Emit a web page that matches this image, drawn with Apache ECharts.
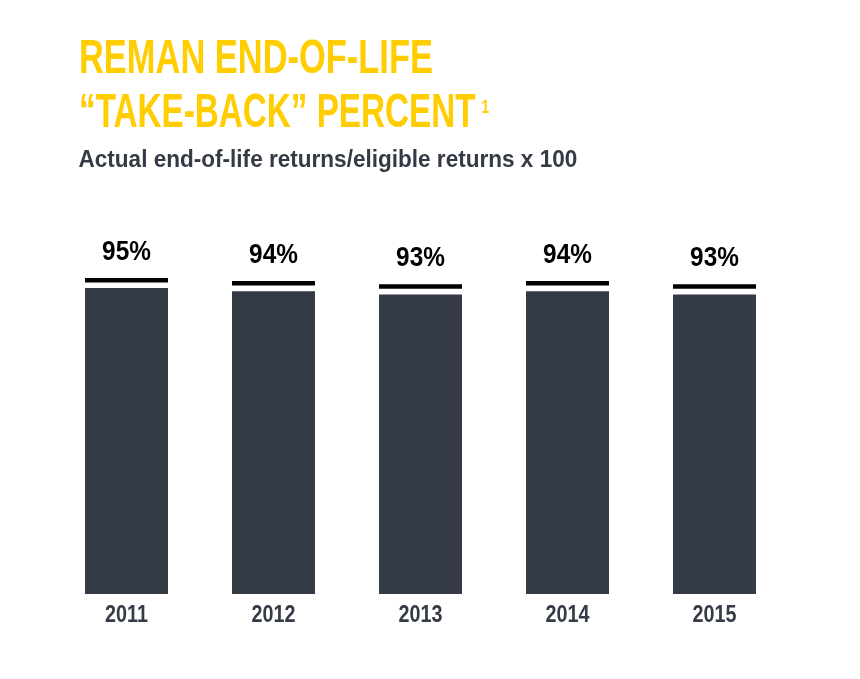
<!DOCTYPE html>
<html>
<head>
<meta charset="utf-8">
<script src="https://cdn.jsdelivr.net/npm/echarts@6/dist/echarts.min.js"></script>
<style>
html,body{margin:0;padding:0;background:#fff;}
#c{width:860px;height:679px;}
</style>
</head>
<body>
<div id="c"></div>
<script>
const years = ['2011', '2012', '2013', '2014', '2015'];
const takeBack = [95, 94, 93, 94, 93];
const titleLines = ['REMAN END-OF-LIFE', '“TAKE-BACK” PERCENT'];
const titleNote = '1';
const subtitle = 'Actual end-of-life returns/eligible returns x 100';

const FONT = "'Liberation Sans', Arial, sans-serif";
const YELLOW = '#FFCD00';
const DARK = '#343a46';

const chart = echarts.init(document.getElementById('c'));
chart.setOption({
  backgroundColor: '#fff',
  animation: false,
  graphic: [{
    type: 'text', x: 79, y: 59.7, scaleX: 0.725, silent: true,
    style: { text: titleLines[0], fill: YELLOW, font: 'bold 47.5px ' + FONT, verticalAlign: 'middle', align: 'left' }
  }, {
    type: 'text', x: 79, y: 113.8, scaleX: 0.70, silent: true,
    style: { text: titleLines[1], fill: YELLOW, font: 'bold 47.5px ' + FONT, verticalAlign: 'middle', align: 'left' }
  }, {
    type: 'text', x: 481.5, y: 108, scaleX: 0.72, silent: true,
    style: { text: titleNote, fill: YELLOW, font: 'bold 19px ' + FONT, verticalAlign: 'middle', align: 'left' }
  }, {
    type: 'text', x: 78.5, y: 160.5, scaleX: 0.917, silent: true,
    style: { text: subtitle, fill: DARK, font: 'bold 24.6px ' + FONT, verticalAlign: 'middle', align: 'left' }
  }],
  grid: { left: 53, right: 72, top: 272, bottom: 85, containLabel: false },
  xAxis: {
    type: 'category',
    data: years,
    axisLine: { show: false },
    axisTick: { show: false },
    axisLabel: { show: false }
  },
  yAxis: {
    type: 'value',
    min: 0,
    max: 100,
    show: false,
    splitLine: { show: false }
  },
  series: [{
    type: 'bar',
    data: takeBack,
    barWidth: 83,
    itemStyle: { color: DARK },
    silent: true
  }, {
    type: 'custom',
    data: takeBack.map((v, i) => [i, v]),
    silent: true,
    z: 3,
    renderItem: function (params, api) {
      const idx = api.value(0);
      const val = api.value(1);
      const top = api.coord([idx, val]);
      const base = api.coord([idx, 0]);
      return {
        type: 'group',
        children: [{
          type: 'rect',
          shape: { x: top[0] - 41.5, y: top[1] - 10.2, width: 83, height: 4.5 },
          style: { fill: '#000' }
        }, {
          type: 'text',
          x: top[0], y: top[1] - 36, scaleX: 0.87,
          style: { text: val + '%', fill: '#000', font: 'bold 28px ' + FONT, align: 'center', verticalAlign: 'middle' }
        }, {
          type: 'text',
          x: base[0], y: base[1] + 21.5, scaleX: 0.80,
          style: { text: years[idx], fill: DARK, font: 'bold 24.7px ' + FONT, align: 'center', verticalAlign: 'middle' }
        }]
      };
    }
  }]
});
</script>
</body>
</html>
